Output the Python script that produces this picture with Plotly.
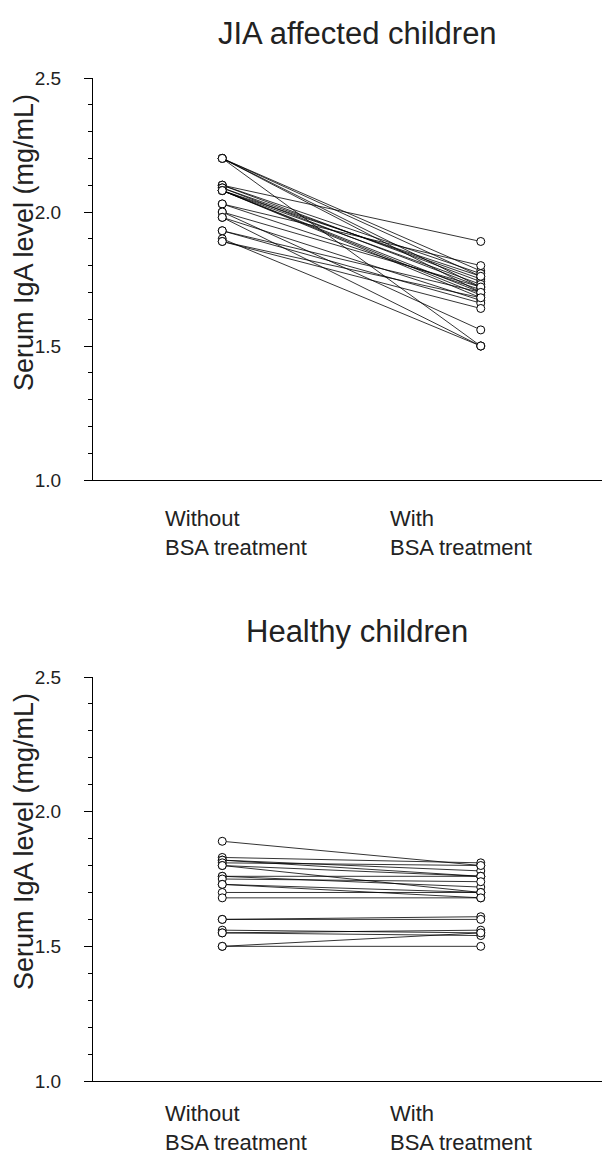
import plotly.graph_objects as go

# page body has an 8px margin; figure coordinates are page pixels minus OFF
OFF = 8
W, H = 610 - OFF, 1154 - OFF

categories = ["Without<br>BSA treatment", "With<br>BSA treatment"]
titles = ["JIA affected children", "Healthy children"]
y_title = "Serum IgA level (mg/mL)"

jia_without = [2.20, 2.20, 2.20, 2.20, 2.20, 2.10, 2.10, 2.10, 2.09, 2.09,
               2.08, 2.08, 2.08, 2.08, 2.08, 2.03, 2.03, 2.00, 2.00, 1.98,
               1.98, 1.93, 1.93, 1.90, 1.89, 1.89]
jia_with = [1.50, 1.78, 1.76, 1.72, 1.70, 1.89, 1.77, 1.74, 1.75, 1.72,
            1.76, 1.73, 1.70, 1.69, 1.68, 1.80, 1.71, 1.56, 1.72, 1.67,
            1.50, 1.70, 1.66, 1.50, 1.64, 1.68]

healthy_without = [1.89, 1.83, 1.82, 1.82, 1.81, 1.80, 1.80, 1.76, 1.76, 1.75,
                   1.73, 1.73, 1.70, 1.68, 1.60, 1.60, 1.56, 1.55, 1.55, 1.50, 1.50]
healthy_with = [1.80, 1.81, 1.78, 1.76, 1.80, 1.76, 1.70, 1.76, 1.72, 1.74,
                1.70, 1.68, 1.70, 1.68, 1.61, 1.60, 1.55, 1.56, 1.54, 1.55, 1.50]

FONT = "Liberation Sans, Arial, sans-serif"
L = 93 - OFF  # left margin in figure pixels

def py(px):
    return 1 - (px - OFF) / H

def px_x(px):
    return (px - OFF - L) / (W - L)

panels = [
    dict(pre=jia_without, post=jia_with, top=78, bottom=480, title_y=33, cat_y=504),
    dict(pre=healthy_without, post=healthy_with, top=677, bottom=1081, title_y=631, cat_y=1099),
]

fig = go.Figure()
annotations = []
for i, p in enumerate(panels):
    xs, ys = [], []
    for a, b in zip(p["pre"], p["post"]):
        xs += [0, 1, None]
        ys += [a, b, None]
    sfx = "" if i == 0 else str(i + 1)
    fig.add_trace(go.Scatter(
        x=xs, y=ys, mode="lines+markers",
        line=dict(color="black", width=0.8),
        marker=dict(symbol="circle", size=8, color="white",
                    line=dict(color="black", width=1)),
        xaxis="x" + sfx, yaxis="y" + sfx, showlegend=False,
        cliponaxis=False, hoverinfo="skip",
    ))
    dom = [py(p["bottom"]), py(p["top"])]
    common_x = dict(domain=[0, 1], range=[-0.5, 1.5], showline=True,
                    linecolor="black", linewidth=1, showticklabels=False,
                    showgrid=False, zeroline=False, ticks="",
                    anchor="y" + sfx)
    common_y = dict(domain=dom, range=[1.0, 2.5], showline=True,
                    linecolor="black", linewidth=1, showgrid=False,
                    zeroline=False, tick0=1.0, dtick=0.5, tickformat=".1f",
                    ticks="outside", ticklen=8, tickcolor="black", tickwidth=1,
                    ticklabelstandoff=19,
                    tickfont=dict(family=FONT, size=19, color="#222"),
                    minor=dict(dtick=0.1, tick0=1.0, ticks="outside", ticklen=4,
                               tickcolor="black", tickwidth=1, showgrid=False),
                    anchor="x" + sfx)
    fig.layout["xaxis" + sfx] = common_x
    fig.layout["yaxis" + sfx] = common_y

    annotations.append(dict(text=titles[i], xref="paper", yref="paper",
                            x=px_x(357), y=py(p["title_y"]), xanchor="center",
                            yanchor="middle", showarrow=False,
                            font=dict(family=FONT, size=31, color="#222")))
    annotations.append(dict(text=y_title, xref="paper", yref="paper",
                            x=px_x(24), y=py(p["top"] + 165),
                            xanchor="center", yanchor="middle", textangle=-90,
                            showarrow=False,
                            font=dict(family=FONT, size=27, color="#222")))
    for cx, cat in zip([163, 388], categories):
        annotations.append(dict(text=cat, xref="paper", yref="paper",
                                x=px_x(cx), y=py(p["cat_y"]), xanchor="left",
                                yanchor="top", align="left", showarrow=False,
                                font=dict(family=FONT, size=22, color="#222")))

fig.update_layout(
    width=W, height=H,
    margin=dict(l=L, r=0, t=0, b=0, autoexpand=False),
    paper_bgcolor="white", plot_bgcolor="white",
    annotations=annotations,
    showlegend=False,
)

fig.write_html("out.html")
